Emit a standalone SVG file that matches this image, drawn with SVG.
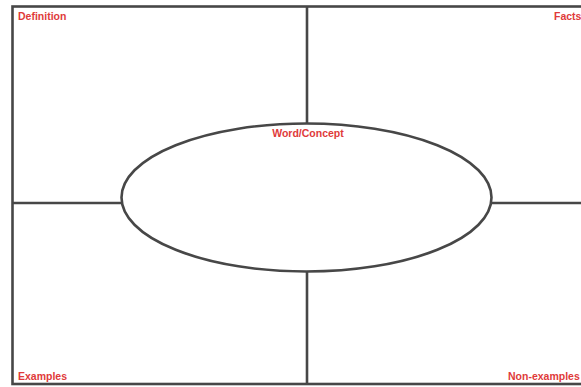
<svg xmlns="http://www.w3.org/2000/svg" width="581" height="387" viewBox="0 0 581 387">
<style>
.ln{stroke:#474747;stroke-width:2.6;fill:none}
.lb{font-family:"Liberation Sans",Arial,sans-serif;font-weight:bold;font-size:10.5px;fill:#e03a3a}
</style>
<rect width="581" height="387" fill="#ffffff"/>
<g id="connectors">
<rect class="ln" x="12.5" y="6.5" width="600" height="377.5"/>
<line class="ln" x1="307" y1="6.5" x2="307" y2="123"/>
<line class="ln" x1="307" y1="271" x2="307" y2="384"/>
<line class="ln" x1="12.5" y1="203" x2="122" y2="203"/>
<line class="ln" x1="491" y1="203" x2="600" y2="203"/>
</g>
<g id="word-concept">
<ellipse class="ln" cx="306.5" cy="197.5" rx="185" ry="74"/>
<text class="lb" x="308" y="137" text-anchor="middle">Word/Concept</text>
</g>
<g id="definition"><text class="lb" x="18" y="20">Definition</text></g>
<g id="facts"><text class="lb" x="554" y="20">Facts</text></g>
<g id="examples"><text class="lb" x="18" y="380">Examples</text></g>
<g id="non-examples"><text class="lb" x="508" y="380">Non-examples</text></g>
</svg>
